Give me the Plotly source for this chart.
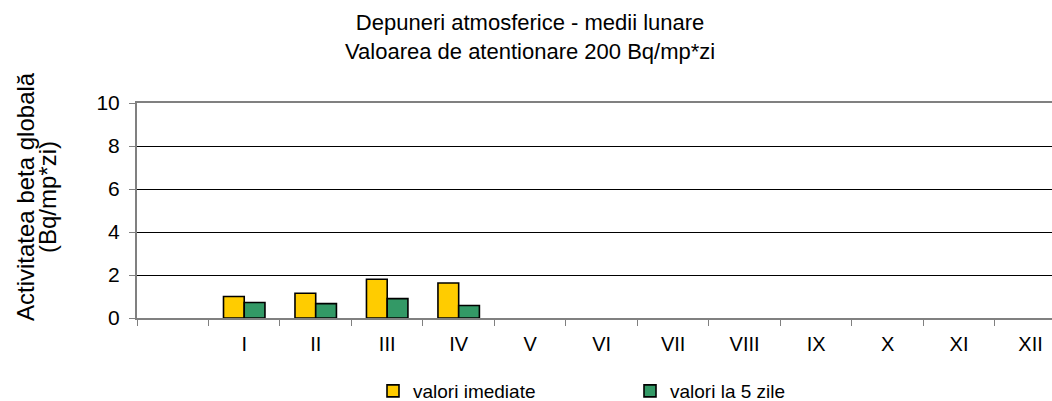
import plotly.graph_objects as go

categories = [" ", "I", "II", "III", "IV", "V", "VI", "VII", "VIII", "IX", "X", "XI", "XII"]
valori_imediate = [None, 1.0, 1.15, 1.8, 1.63, None, None, None, None, None, None, None, None]
valori_5_zile = [None, 0.72, 0.67, 0.9, 0.58, None, None, None, None, None, None, None, None]
y_ticks = [0, 2, 4, 6, 8, 10]
title_lines = ["Depuneri atmosferice - medii lunare", "Valoarea de atentionare 200 Bq/mp*zi"]
y_title_lines = ["Activitatea beta globală", "(Bq/mp*zi)"]

FONT = "Liberation Sans, Arial, sans-serif"
W, H = 1052, 401
L, T, B = 137, 103, 83

fig = go.Figure()
fig.add_trace(go.Bar(x=categories, y=valori_imediate, name="valori imediate",
                     marker=dict(color="#FFCC00", line=dict(color="black", width=1.6))))
fig.add_trace(go.Bar(x=categories, y=valori_5_zile, name="valori la 5 zile",
                     marker=dict(color="#339966", line=dict(color="black", width=1.6))))

fig.update_layout(
    width=W, height=H,
    margin=dict(l=L, r=0, t=T, b=B, autoexpand=False),
    paper_bgcolor="white", plot_bgcolor="white",
    font=dict(family=FONT, size=19, color="black"),
    barmode="group", bargap=0.42, bargroupgap=0,
    showlegend=True,
    legend=dict(orientation="h", xref="container", yref="container",
                x=373 / W, xanchor="left", y=1 - 391 / H, yanchor="middle",
                font=dict(family=FONT, size=19), entrywidth=212, entrywidthmode="pixels",
                itemwidth=30, traceorder="normal", bgcolor="rgba(0,0,0,0)"),
)

PH = H - T - B
PW = W - L

fig.add_annotation(text="<br>".join(title_lines), xref="paper", yref="paper",
                   x=(530 - L) / PW, y=(H - B - 37) / PH,
                   xanchor="center", yanchor="middle", showarrow=False, align="center",
                   font=dict(family=FONT, size=22, color="black"))

for txt, xc in zip(y_title_lines, [25, 47]):
    fig.add_annotation(text=txt, xref="paper", yref="paper",
                       x=(xc - L) / PW, y=(H - B - 197) / PH,
                       xanchor="center", yanchor="middle", textangle=-90, showarrow=False,
                       font=dict(family=FONT, size=24, color="black"))

fig.update_xaxes(type="category", categoryorder="array", categoryarray=categories,
                 range=[-0.5, 12.3], showline=True, linecolor="#808080", linewidth=2,
                 mirror=True, ticks="outside", tickson="boundaries", ticklen=6,
                 tickcolor="#808080", tickwidth=1, showgrid=False, automargin=False,
                 ticklabelstandoff=7, tickfont=dict(family=FONT, size=20))
fig.update_yaxes(range=[0, 10], tickvals=y_ticks, showline=True, linecolor="#808080",
                 linewidth=2, ticks="outside", ticklen=6, tickcolor="#808080",
                 showgrid=True, gridcolor="black", gridwidth=1, zeroline=False,
                 automargin=False, ticklabelstandoff=5, tickfont=dict(family=FONT, size=21))

fig.write_html("out.html", post_script="document.body.style.margin='0';",
               config={"displayModeBar": False})
